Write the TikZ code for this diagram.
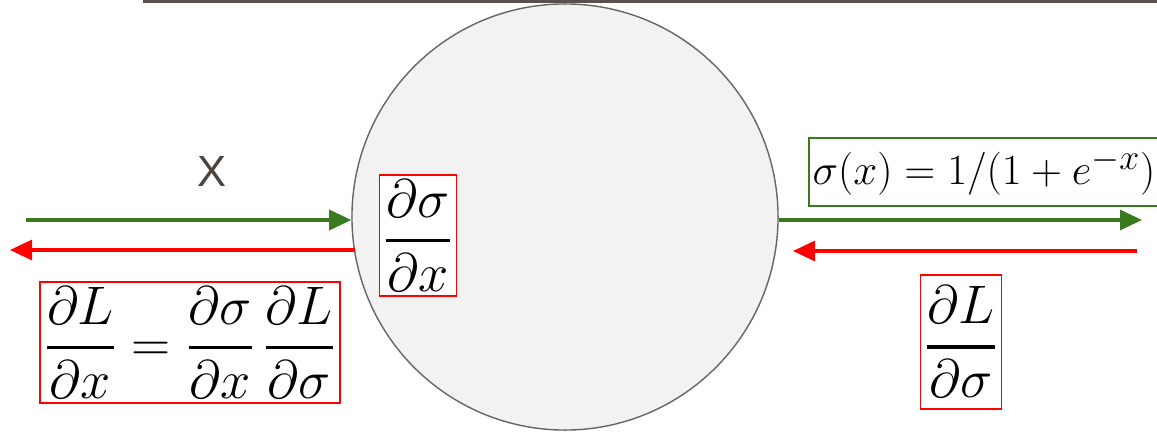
\documentclass[tikz,border=0pt]{standalone}
\usepackage{amsmath}
\usepackage{fontspec}
\setsansfont{Liberation Sans}
\usetikzlibrary{arrows.meta,positioning}
\definecolor{fwdgreen}{HTML}{3A7A1E}
\definecolor{bwdred}{HTML}{FF0000}
\definecolor{rulegray}{HTML}{5A504C}
\definecolor{labelgray}{HTML}{4A4440}
\newcommand{\pdfrac}[2]{\genfrac{}{}{1.6pt}{0}{#1}{#2}}
\begin{document}
\begin{tikzpicture}[
  x=0.025cm, y=-0.025cm,
  neuron/.style={circle, draw=black!60, fill=black!5, line width=1pt,
                 minimum size=10.65cm, inner sep=0pt},
  gradbox/.style={draw=bwdred, line width=1.3pt, inner sep=2pt, fill=white,
                  font=\Huge, scale=1.55},
  funcbox/.style={draw=fwdgreen, line width=1.3pt, inner xsep=2pt, inner ysep=6pt,
                  fill=white, font=\Huge, scale=1.23},
  fwd/.style={-{Triangle[length=5.5mm, width=5mm]}, fwdgreen, line width=2.2pt},
  bwd/.style={-{Triangle[length=5.5mm, width=5mm]}, bwdred, line width=2.2pt},
]
  \useasboundingbox (0,0) rectangle (1157,433);
  \clip (0,0) rectangle (1157,433);
  \draw[rulegray, line width=2.2pt] (143,1) -- (1157,1);

  \node[neuron] (sig) at (565,217) {};
  \node[gradbox] (local) at (418,235.5)
    {$\pdfrac{\partial\sigma}{\partial x}$};

  % left side: input and gradient going back
  \node[font=\sffamily\fontsize{31}{34}\selectfont, text=labelgray] (xlab) at (212,172) {X};
  \coordinate (xin) at (26,220);
  \coordinate (xout) at (10,250);
  \draw[fwd] (xin) -- (xin -| sig.west);
  \draw[bwd] ([xshift=2.5pt]xout -| sig.west) -- (xout);
  \node[gradbox] (chain) at (190,342.5)
    {$\pdfrac{\partial L}{\partial x}
     = \pdfrac{\partial\sigma}{\partial x}\,\pdfrac{\partial L}{\partial\sigma}$};

  % right side: output and upstream gradient
  \coordinate (yout) at (1142,220);
  \coordinate (yin) at (1137,251);
  \coordinate (yend) at (793,251);
  \draw[fwd] (yout -| sig.east) -- (yout);
  \draw[bwd] (yin) -- (yend);
  \node[funcbox, anchor=west] (func) at (808,172)
    {$\sigma(x)=1/(1+e^{-x})$\hspace{0.6em}};
  \node[gradbox, inner ysep=5pt] (upgrad) at (961,342)
    {$\pdfrac{\partial L}{\partial\sigma}$};
\end{tikzpicture}
\end{document}
